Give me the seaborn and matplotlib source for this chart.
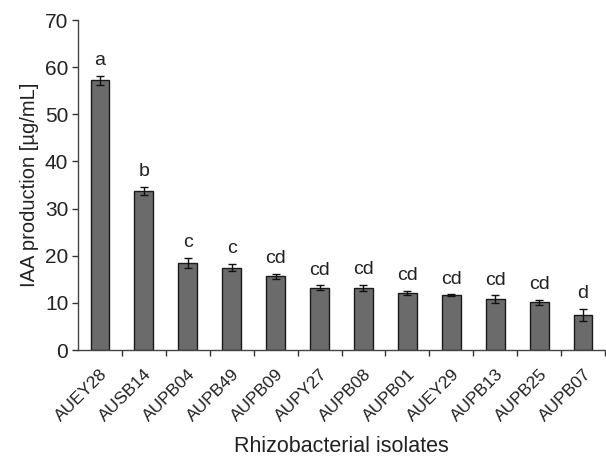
import matplotlib
matplotlib.use("Agg")
import matplotlib.pyplot as plt
import numpy as np
import pandas as pd
import seaborn as sns

# Data
isolates = ["AUEY28", "AUSB14", "AUPB04", "AUPB49", "AUPB09", "AUPY27",
            "AUPB08", "AUPB01", "AUEY29", "AUPB13", "AUPB25", "AUPB07"]
iaa_mean = [57.2, 33.7, 18.5, 17.5, 15.6, 13.2, 13.2, 12.1, 11.6, 10.8, 10.1, 7.5]
iaa_err = [1.0, 0.9, 1.1, 0.8, 0.6, 0.5, 0.6, 0.5, 0.2, 0.8, 0.6, 1.3]
groups = ["a", "b", "c", "c", "cd", "cd", "cd", "cd", "cd", "cd", "cd", "d"]
y_ticks = [0, 10, 20, 30, 40, 50, 60, 70]

df = pd.DataFrame({"isolate": isolates, "iaa": iaa_mean})

sns.set_style("ticks")
plt.rcParams["font.family"] = ["Liberation Sans", "DejaVu Sans"]

fig = plt.figure(figsize=(6.06, 4.59), dpi=100)
ax = fig.add_axes([78 / 606, 1 - 350 / 459, 527 / 606, 330 / 459])

sns.barplot(data=df, x="isolate", y="iaa", ax=ax, color="#6b6b6b",
            saturation=1, width=0.43, edgecolor="#1a1a1a", linewidth=1.0,
            errorbar=None)
x = np.arange(len(isolates))
ax.errorbar(x, iaa_mean, yerr=iaa_err, fmt="none", ecolor="#111111",
            elinewidth=1.0, capsize=3, capthick=1.0)

for xi, m, e, g in zip(x, iaa_mean, iaa_err, groups):
    ax.text(xi, m + e + 1.4, g, ha="center", va="bottom", fontsize=14,
            color="#222222")

ax.set_xlim(-0.5, len(isolates) - 0.5)
ax.set_ylim(0, 70)
ax.set_yticks(y_ticks)
ax.tick_params(axis="y", labelsize=15, length=4, width=1, colors="#333333",
               labelcolor="#222222", pad=3)
ax.set_xticks(x)
ax.set_xticklabels(isolates, rotation=45, ha="right", rotation_mode="anchor",
                   fontsize=12.5, color="#222222")
ax.tick_params(axis="x", length=0, pad=12)
# tick marks between categories
ax.set_xticks(np.arange(len(isolates)) + 0.5, minor=True)
ax.tick_params(axis="x", which="minor", length=4, width=1, colors="#333333")

ax.set_xlabel("Rhizobacterial isolates", fontsize=15.5, color="#222222", labelpad=8)
ax.set_ylabel("IAA production [µg/mL]", fontsize=14.5, color="#222222", labelpad=4)

sns.despine(ax=ax)
for s in ["left", "bottom"]:
    ax.spines[s].set_color("#444444")
    ax.spines[s].set_linewidth(1.0)

fig.savefig("out.png", dpi=100, facecolor="white")
